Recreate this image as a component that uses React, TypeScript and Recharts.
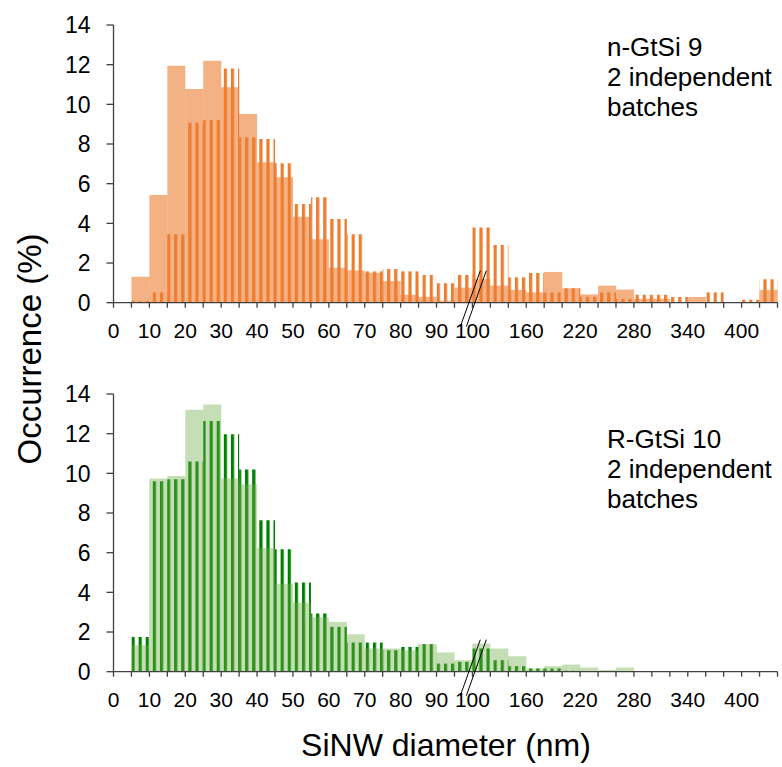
import { Bar, BarChart, XAxis, YAxis } from 'recharts';

// lower edge (nm) of every histogram bin; the axis switches to 20 nm bins after 100
const binStarts = [
  0, 5, 10, 15, 20, 25, 30, 35, 40, 45, 50, 55, 60, 65, 70, 75, 80, 85, 90, 95,
  100, 120, 140, 160, 180, 200, 220, 240, 260, 280, 300, 320, 340, 360, 380, 400, 420,
];

// bin edges that carry a number on the x axis
const labelledEdges = [0, 10, 20, 30, 40, 50, 60, 70, 80, 90, 100, 160, 220, 280, 340, 400];

const yTicks = [0, 2, 4, 6, 8, 10, 12, 14];

// n-GtSi 9, occurrence (%) per bin
const nGtSiSolid = [
  0, 1.31, 5.43, 11.95, 10.77, 12.2, 10.86, 9.51, 7.08, 6.32, 4.33, 3.2, 1.76, 1.63, 1.51, 1.09, 0.4, 0.3, 0.1,
  0.76, 1.19, 0.86, 0.64, 0.52, 1.55, 0.73, 0.42, 0.86, 0.66, 0.2, 0.2, 0, 0.29, 0, 0, 0, 0.64,
];
const nGtSiStriped = [
  0, 0.09, 0.52, 3.45, 9.09, 9.21, 11.81, 8.34, 8.25, 7.03, 4.97, 5.31, 4.22, 3.45, 1.58, 1.7, 1.58, 1.4, 0.98,
  1.4, 3.79, 2.91, 1.28, 1.5, 0.52, 0.73, 0.3, 0.52, 0.19, 0.4, 0.4, 0.29, 0, 0.52, 0, 0.15, 1.18,
];

// R-GtSi 10, occurrence (%) per bin
const rGtSiSolid = [
  0, 1.34, 9.74, 9.87, 13.2, 13.47, 9.74, 9.45, 6.24, 4.44, 3.49, 2.75, 2.51, 1.89, 1.17, 1.17, 1.08, 1.39, 0.97,
  0.58, 1.42, 1.17, 0.78, 0.16, 0.28, 0.36, 0.21, 0.08, 0.21, 0, 0, 0, 0, 0, 0, 0, 0,
];
const rGtSiStriped = [
  0, 1.75, 9.6, 9.7, 10.6, 12.64, 11.97, 10.19, 7.64, 6.17, 4.5, 2.93, 2.26, 1.47, 1.47, 1.08, 1.25, 1.39, 0.41,
  0.5, 1.17, 0.58, 0.28, 0.16, 0.16, 0.05, 0, 0, 0, 0, 0, 0, 0, 0, 0, 0, 0,
];

const W = 782;
const CHART_H = 345;
const Y_AXIS_W = 113.5;
const RIGHT = 4.5;
const TOP = 25;
const PLOT_H = 277.7;
const BAND = (W - Y_AXIS_W - RIGHT) / binStarts.length;
const AXIS = '#404040';
const FONT = '"Liberation Sans", Arial, sans-serif';

const XTick = (props: any) => {
  const { x, y, payload, index } = props;
  const left = x - BAND / 2;
  const edge = payload.value;
  const cross = left - 3.5;
  return (
    <g>
      <line x1={left} x2={left} y1={y} y2={y + 5} stroke={AXIS} strokeWidth={1.3} />
      {index === binStarts.length - 1 && (
        <line x1={left + BAND} x2={left + BAND} y1={y} y2={y + 5} stroke={AXIS} strokeWidth={1.3} />
      )}
      {labelledEdges.includes(edge) && (
        <text x={left} y={y + 35.5} textAnchor="middle" fontSize={21} fill="#000">
          {edge}
        </text>
      )}
      {edge === 100 && (
        <g stroke="#000" strokeWidth={1}>
          <line x1={cross - 8.6} y1={y + 24} x2={cross + 11.4} y2={y - 32} />
          <line x1={cross - 2.6} y1={y + 24} x2={cross + 17.4} y2={y - 32} />
        </g>
      )}
    </g>
  );
};

type PanelProps = {
  top: number;
  noteTop: number;
  solid: number[];
  striped: number[];
  stripeId: string;
  color: string;
  solidOpacity: number;
  note: string[];
};

const Panel = ({ top, noteTop, solid, striped, stripeId, color, solidOpacity, note }: PanelProps) => {
  const data = binStarts.map((bin, i) => ({ bin, solid: solid[i], striped: striped[i] }));
  return (
    <div style={{ position: 'absolute', left: 0, top, width: W, height: CHART_H }}>
      <BarChart
        width={W}
        height={CHART_H}
        data={data}
        margin={{ top: TOP, right: RIGHT, bottom: 0, left: 0 }}
        barCategoryGap={0}
        barGap={0}
      >
        <YAxis
          type="number"
          domain={[0, 14]}
          ticks={yTicks}
          interval={0}
          width={Y_AXIS_W}
          tickSize={7}
          tickMargin={16}
          axisLine={{ stroke: AXIS, strokeWidth: 1.3 }}
          tickLine={{ stroke: AXIS, strokeWidth: 1.3 }}
          tick={{ fontSize: 23, fill: '#000' }}
        />
        <XAxis xAxisId="over" dataKey="bin" hide />
        <Bar xAxisId="main" dataKey="striped" fill={`url(#${stripeId})`} isAnimationActive={false} />
        <Bar xAxisId="over" dataKey="solid" fill={color} fillOpacity={solidOpacity} isAnimationActive={false} />
        <XAxis
          xAxisId="main"
          dataKey="bin"
          interval={0}
          height={CHART_H - TOP - PLOT_H}
          tickSize={0}
          tickMargin={0}
          tickLine={false}
          axisLine={{ stroke: AXIS, strokeWidth: 1.3 }}
          tick={<XTick />}
        />
      </BarChart>
      <div
        style={{
          position: 'absolute',
          left: 607,
          top: noteTop,
          fontSize: 26,
          lineHeight: '30px',
          color: '#000',
          whiteSpace: 'nowrap',
        }}
      >
        {note.map((line) => (
          <div key={line}>{line}</div>
        ))}
      </div>
    </div>
  );
};

export default function App() {
  return (
    <div
      style={{
        position: 'absolute',
        left: 0,
        top: 0,
        width: W,
        height: 767,
        background: '#fff',
        fontFamily: FONT,
      }}
    >
      <svg width={0} height={0} style={{ position: 'absolute' }}>
        <defs>
          <pattern id="stripeOrange" patternUnits="userSpaceOnUse" x={3.7} width={7.1} height={10}>
            <rect x={0} y={0} width={3.2} height={10} fill="#ED7D31" />
          </pattern>
          <pattern id="stripeGreen" patternUnits="userSpaceOnUse" x={3.7} width={7.1} height={10}>
            <rect x={0} y={0} width={3.2} height={10} fill="#008000" />
          </pattern>
        </defs>
      </svg>
      <Panel
        top={0}
        noteTop={32}
        solid={nGtSiSolid}
        striped={nGtSiStriped}
        stripeId="stripeOrange"
        color="#ED7D31"
        solidOpacity={0.6}
        note={['n-GtSi 9', '2 independent', 'batches']}
      />
      <Panel
        top={368.8}
        noteTop={55}
        solid={rGtSiSolid}
        striped={rGtSiStriped}
        stripeId="stripeGreen"
        color="#70AD47"
        solidOpacity={0.4}
        note={['R-GtSi 10', '2 independent', 'batches']}
      />
      <div
        style={{
          position: 'absolute',
          left: 30,
          top: 349,
          transform: 'translate(-50%, -50%) rotate(-90deg)',
          fontSize: 33,
          whiteSpace: 'nowrap',
          color: '#000',
        }}
      >
        Occurrence (%)
      </div>
      <div
        style={{
          position: 'absolute',
          left: 446,
          top: 745,
          transform: 'translate(-50%, -50%)',
          fontSize: 32,
          whiteSpace: 'nowrap',
          color: '#000',
        }}
      >
        SiNW diameter (nm)
      </div>
    </div>
  );
}
